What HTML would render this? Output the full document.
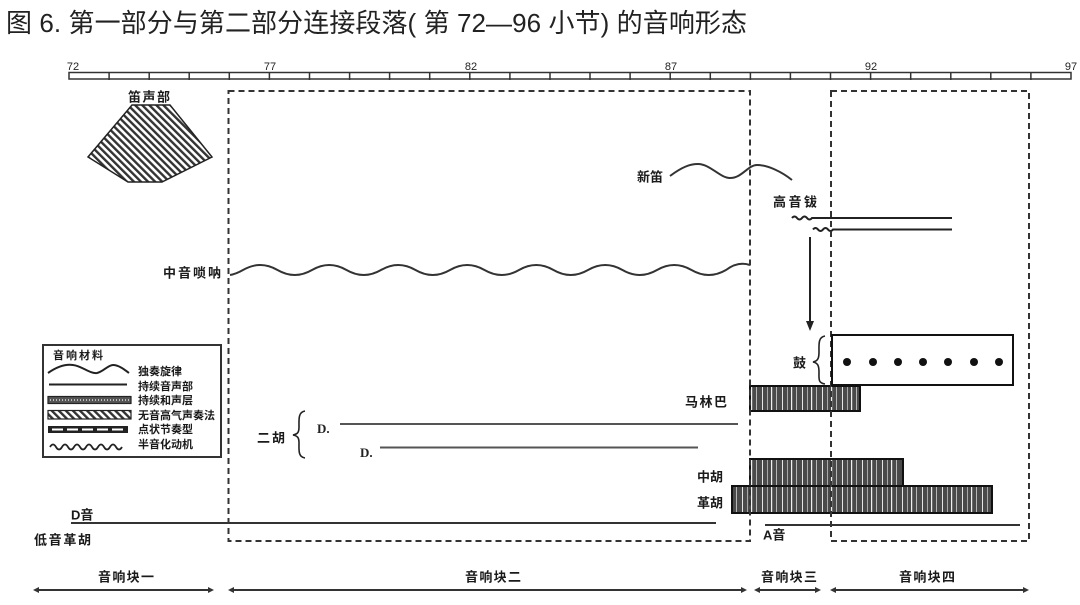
<!DOCTYPE html>
<html>
<head>
<meta charset="utf-8">
<style>
  html,body{margin:0;padding:0;background:#fff;}
  svg{display:block;}
  .t{font-family:"Liberation Sans","Noto Sans CJK SC",sans-serif;}
  .lb{font-family:"Liberation Sans","Noto Sans CJK SC",sans-serif;font-weight:bold;font-size:13px;fill:#1a1a1a;dominant-baseline:central;}
  .lg{font-family:"Liberation Sans","Noto Sans CJK SC",sans-serif;font-weight:bold;font-size:11px;fill:#1a1a1a;dominant-baseline:central;}
  .rl{font-family:"Liberation Sans",sans-serif;font-size:11px;fill:#222;text-anchor:middle;}
</style>
</head>
<body>
<svg width="1080" height="605" viewBox="0 0 1080 605" xmlns="http://www.w3.org/2000/svg">
  <defs>
    <pattern id="hatch" width="5" height="5" patternUnits="userSpaceOnUse" patternTransform="rotate(-45)">
      <rect width="5" height="5" fill="#fff"/>
      <rect width="2.4" height="5" fill="#333"/>
    </pattern>
    <pattern id="vs" width="20" height="4" patternUnits="userSpaceOnUse">
      <rect width="20" height="4" fill="#4a4a4a"/>
      <rect x="2" width="1" height="4" fill="#e6e6e6"/>
      <rect x="7" width="1" height="4" fill="#a8a8a8"/>
      <rect x="11" width="1.2" height="4" fill="#f0f0f0"/>
      <rect x="16" width="1" height="4" fill="#b8b8b8"/>
    </pattern>
  </defs>

  <!-- Title -->
  <text class="t" x="6" y="32" font-size="26" fill="#222" textLength="741" lengthAdjust="spacing">图 6. 第一部分与第二部分连接段落( 第 72—96 小节) 的音响形态</text>

  <!-- Ruler -->
  <rect x="69" y="72.5" width="1002" height="6.5" fill="#fff" stroke="#333" stroke-width="1.5"/>
  <g stroke="#333" stroke-width="1.5">
    <line x1="109.1" y1="72" x2="109.1" y2="80"/>
    <line x1="149.2" y1="72" x2="149.2" y2="80"/>
    <line x1="189.2" y1="72" x2="189.2" y2="80"/>
    <line x1="229.3" y1="72" x2="229.3" y2="80"/>
    <line x1="269.4" y1="72" x2="269.4" y2="80"/>
    <line x1="309.5" y1="72" x2="309.5" y2="80"/>
    <line x1="349.6" y1="72" x2="349.6" y2="80"/>
    <line x1="389.6" y1="72" x2="389.6" y2="80"/>
    <line x1="429.7" y1="72" x2="429.7" y2="80"/>
    <line x1="469.8" y1="72" x2="469.8" y2="80"/>
    <line x1="509.9" y1="72" x2="509.9" y2="80"/>
    <line x1="550" y1="72" x2="550" y2="80"/>
    <line x1="590" y1="72" x2="590" y2="80"/>
    <line x1="630.1" y1="72" x2="630.1" y2="80"/>
    <line x1="670.2" y1="72" x2="670.2" y2="80"/>
    <line x1="710.3" y1="72" x2="710.3" y2="80"/>
    <line x1="750.4" y1="72" x2="750.4" y2="80"/>
    <line x1="790.4" y1="72" x2="790.4" y2="80"/>
    <line x1="830.5" y1="72" x2="830.5" y2="80"/>
    <line x1="870.6" y1="72" x2="870.6" y2="80"/>
    <line x1="910.7" y1="72" x2="910.7" y2="80"/>
    <line x1="950.8" y1="72" x2="950.8" y2="80"/>
    <line x1="990.8" y1="72" x2="990.8" y2="80"/>
    <line x1="1030.9" y1="72" x2="1030.9" y2="80"/>
  </g>
  <text class="rl" x="73" y="70">72</text>
  <text class="rl" x="270" y="70">77</text>
  <text class="rl" x="471" y="70">82</text>
  <text class="rl" x="671" y="70">87</text>
  <text class="rl" x="871" y="70">92</text>
  <text class="rl" x="1071" y="70">97</text>

  <!-- Flute section -->
  <text class="lb" x="128" y="97" textLength="42">笛声部</text>
  <polygon points="132,105 170,105 212,157 162,182 128,182 88,157" fill="url(#hatch)" stroke="#222" stroke-width="1.5"/>

  <!-- 新笛 -->
  <text class="lb" x="637" y="177" textLength="26">新笛</text>
  <path d="M670 176 C682 167,690 164,698 164 C710 164,720 178,730 178 C742 178,748 165,757 165 C768 165,782 172,792 180" fill="none" stroke="#333" stroke-width="2"/>

  <!-- 高音钹 -->
  <text class="lb" x="773" y="202" textLength="44">高音钹</text>
  <path d="M792 218 q2.5 -3 5 0 t5 0 t5 0 t5 0 L952 218" fill="none" stroke="#222" stroke-width="2"/>
  <path d="M813 229.5 q2.5 -3 5 0 t5 0 t5 0 t5 0 L952 229.5" fill="none" stroke="#222" stroke-width="2"/>
  <line x1="810" y1="237" x2="810" y2="323" stroke="#222" stroke-width="2"/>
  <polygon points="806,321 814,321 810,331" fill="#222"/>

  <!-- 中音唢呐 -->
  <text class="lb" x="163" y="273" textLength="58">中音唢呐</text>
  <path d="M230 275 Q236 274 243 270 Q260.25 260 277.5 270 T312 270 T346.5 270 T381 270 T415.5 270 T450 270 T484.5 270 T519 270 T553.5 270 T588 270 T622.5 270 T657 270 T691.5 270 T726 270 Q738 261 750 265" fill="none" stroke="#333" stroke-width="2"/>

  <!-- Legend -->
  <rect x="43" y="345" width="178" height="112" fill="#fff" stroke="#333" stroke-width="2"/>
  <text class="lg" x="53" y="356" font-size="12" textLength="50">音响材料</text>
  <path d="M48 373 C58 366,66 364,73 365 C82 366,90 374,97 373 C103 372,108 365,113 365 C119 365,125 370,129 373" fill="none" stroke="#222" stroke-width="2"/>
  <line x1="49" y1="384.5" x2="127" y2="384.5" stroke="#222" stroke-width="2"/>
  <rect x="48" y="396.5" width="83" height="7" fill="#555" stroke="#222" stroke-width="1.2"/>
  <line x1="50" y1="400" x2="129" y2="400" stroke="#ddd" stroke-width="1.5" stroke-dasharray="1 2"/>
  <rect x="48" y="410.5" width="83" height="8.5" fill="url(#hatch)" stroke="#222" stroke-width="1.2"/>
  <rect x="48" y="426" width="80" height="7" fill="#222"/>
  <line x1="52" y1="429.5" x2="125" y2="429.5" stroke="#fff" stroke-width="2" stroke-dasharray="11 4"/>
  <path d="M50 447 q3 -5 6 0 t6 0 t6 0 t6 0 t6 0 t6 0 t6 0 t6 0 t6 0 t6 0 t6 0 t6 0" fill="none" stroke="#222" stroke-width="1.8"/>
  <text class="lg" x="138" y="372">独奏旋律</text>
  <text class="lg" x="138" y="387">持续音声部</text>
  <text class="lg" x="138" y="401">持续和声层</text>
  <text class="lg" x="138" y="416">无音高气声奏法</text>
  <text class="lg" x="138" y="430">点状节奏型</text>
  <text class="lg" x="138" y="445">半音化动机</text>

  <!-- 二胡 -->
  <text class="lb" x="257" y="438" textLength="28">二胡</text>
  <path d="M305 411 C298 412,299 420,299 427 C299 432,298 434,293 435 C298 436,299 438,299 443 C299 450,298 457,305 458" fill="none" stroke="#222" stroke-width="1.6"/>
  <text x="317" y="433" font-family="Liberation Serif, serif" font-weight="bold" font-size="13" fill="#222">D.</text>
  <line x1="340" y1="424" x2="738" y2="424" stroke="#555" stroke-width="2"/>
  <text x="360" y="457" font-family="Liberation Serif, serif" font-weight="bold" font-size="13" fill="#222">D.</text>
  <line x1="380" y1="447.5" x2="698" y2="447.5" stroke="#555" stroke-width="2"/>

  <!-- 低音革胡 D音 -->
  <text class="lb" x="71" y="515" font-size="12">D音</text>
  <line x1="71" y1="523" x2="716" y2="523" stroke="#333" stroke-width="2"/>
  <text class="lb" x="34" y="540" textLength="57">低音革胡</text>

  <!-- Bars -->
  <text class="lb" x="685" y="402" textLength="42">马林巴</text>
  <rect x="750" y="386" width="110" height="25" fill="url(#vs)" stroke="#111" stroke-width="2"/>
  <text class="lb" x="697" y="477" textLength="26">中胡</text>
  <text class="lb" x="697" y="503" textLength="26">革胡</text>
  <rect x="732" y="486" width="260" height="27" fill="url(#vs)" stroke="#111" stroke-width="2"/>
  <rect x="750" y="459" width="153" height="27" fill="url(#vs)" stroke="#111" stroke-width="2"/>

  <!-- A音 -->
  <line x1="765" y1="525" x2="1020" y2="525" stroke="#333" stroke-width="2"/>
  <text class="lb" x="763" y="535" font-size="12">A音</text>

  <!-- 鼓 -->
  <text class="lb" x="793" y="363">鼓</text>
  <path d="M825 336 C818 337,819 345,819 352 C819 358,818 361,813 362 C818 363,819 366,819 372 C819 379,818 383,825 384" fill="none" stroke="#222" stroke-width="1.6"/>

  <!-- Dashed boxes -->
  <rect x="228.5" y="91" width="521.5" height="450" fill="none" stroke="#333" stroke-width="2" stroke-dasharray="6 4"/>
  <rect x="831" y="91" width="198" height="450" fill="none" stroke="#333" stroke-width="2" stroke-dasharray="6 4"/>

  <rect x="832" y="335" width="181" height="50" fill="#fff" stroke="#111" stroke-width="2"/>
  <g fill="#111">
    <circle cx="847" cy="362" r="4"/>
    <circle cx="873" cy="362" r="4"/>
    <circle cx="898" cy="362" r="4"/>
    <circle cx="923" cy="362" r="4"/>
    <circle cx="948" cy="362" r="4"/>
    <circle cx="974" cy="362" r="4"/>
    <circle cx="999" cy="362" r="4"/>
  </g>

  <!-- Bottom block arrows -->
  <g stroke="#333" stroke-width="2">
    <line x1="36" y1="590" x2="211" y2="590"/>
    <line x1="231" y1="590" x2="744" y2="590"/>
    <line x1="757" y1="590" x2="818" y2="590"/>
    <line x1="833" y1="590" x2="1026" y2="590"/>
  </g>
  <g fill="#333">
    <polygon points="33,590 39,587 39,593"/>
    <polygon points="214,590 208,587 208,593"/>
    <polygon points="228,590 234,587 234,593"/>
    <polygon points="747,590 741,587 741,593"/>
    <polygon points="754,590 760,587 760,593"/>
    <polygon points="821,590 815,587 815,593"/>
    <polygon points="830,590 836,587 836,593"/>
    <polygon points="1029,590 1023,587 1023,593"/>
  </g>
  <text class="lb" x="98" y="577" textLength="56">音响块一</text>
  <text class="lb" x="465" y="577" textLength="56">音响块二</text>
  <text class="lb" x="761" y="577" textLength="56">音响块三</text>
  <text class="lb" x="899" y="577" textLength="56">音响块四</text>
</svg>
</body>
</html>
